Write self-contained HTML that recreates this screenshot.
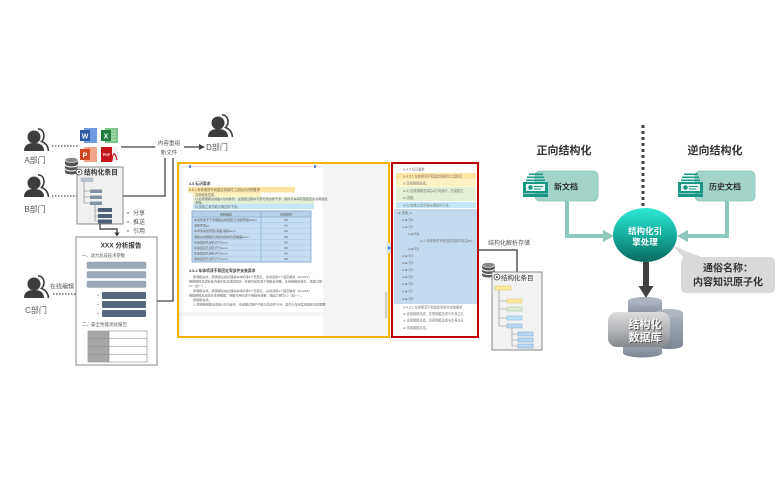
<!DOCTYPE html>
<html><head><meta charset="utf-8">
<style>
html,body{margin:0;padding:0;background:#fff;}
svg{display:block}
text{font-family:"Liberation Sans","Noto Sans CJK SC",sans-serif;}
</style></head>
<body>
<svg width="783" height="483" viewBox="0 0 783 483" xmlns="http://www.w3.org/2000/svg">
<defs>
  <g id="person">
    <circle cx="0" cy="0" r="6.5" fill="#3d3d3d"/>
    <path d="M-10,14 C-10,8 -6,6 0,6 C6,6 10,8 10,14 Z" fill="#3d3d3d"/>
    <path d="M4,-8 C10,-8.5 12,0 7.5,4.5 C12,6 14,9 14.5,14" stroke="#3d3d3d" stroke-width="1.6" fill="none"/>
  </g>
  <linearGradient id="gCircle" x1="0" y1="0" x2="0" y2="1">
    <stop offset="0" stop-color="#2fe8d8"/>
    <stop offset="0.55" stop-color="#13a896"/>
    <stop offset="1" stop-color="#0a6a5e"/>
  </linearGradient>
  <linearGradient id="gDb" x1="0" y1="0" x2="0" y2="1">
    <stop offset="0" stop-color="#dcdcdc"/>
    <stop offset="0.5" stop-color="#b4b6b9"/>
    <stop offset="1" stop-color="#85888c"/>
  </linearGradient>
  <linearGradient id="gDb2" x1="0" y1="0" x2="0" y2="1">
    <stop offset="0" stop-color="#a9b2bd"/>
    <stop offset="1" stop-color="#7c8693"/>
  </linearGradient>
</defs>

<!-- ===== LEFT: persons ===== -->
<use href="#person" x="34" y="137"/>
<text x="35" y="163" font-size="8" fill="#555" text-anchor="middle">A部门</text>
<line x1="52" y1="146" x2="78" y2="146" stroke="#555" stroke-width="1.2" stroke-dasharray="1.5,1.5"/>

<use href="#person" x="34" y="183"/>
<text x="35" y="212" font-size="8" fill="#555" text-anchor="middle">B部门</text>
<line x1="52" y1="196" x2="77" y2="196" stroke="#555" stroke-width="1.2" stroke-dasharray="1.5,1.5"/>

<use href="#person" x="34" y="284"/>
<text x="36" y="313" font-size="8" fill="#555" text-anchor="middle">C部门</text>
<text x="50" y="288.5" font-size="6" fill="#555">在线编辑</text>
<line x1="53" y1="294" x2="76" y2="294" stroke="#555" stroke-width="1.2" stroke-dasharray="1.5,1.5"/>

<use href="#person" x="218" y="123"/>
<text x="217" y="150" font-size="8" fill="#555" text-anchor="middle">D部门</text>

<!-- office icons -->
<g>
  <rect x="84" y="128" width="13" height="15" fill="#6f9be0"/>
  <rect x="80" y="130" width="10" height="11" fill="#2b5aa8"/>
  <text x="85" y="138.5" font-size="7" font-weight="bold" fill="#fff" text-anchor="middle">W</text>
  <rect x="105" y="128" width="13" height="15" fill="#7cc68a"/>
  <rect x="101" y="130" width="10" height="11" fill="#1f7a3e"/>
  <text x="106" y="138.5" font-size="7" font-weight="bold" fill="#fff" text-anchor="middle">X</text>
  <path d="M111,131h5M111,134h5M111,137h5M111,140h5" stroke="#fff" stroke-width="0.6"/>
  <rect x="84" y="147" width="13" height="15" fill="#f0a48a"/>
  <rect x="80" y="149" width="10" height="11" fill="#cf4a24"/>
  <text x="85" y="157.5" font-size="7" font-weight="bold" fill="#fff" text-anchor="middle">P</text>
  <rect x="101" y="147" width="15" height="15" fill="#c4161c"/>
  <rect x="112" y="147" width="6" height="15" fill="#f4f4f4"/>
  <text x="106.5" y="156" font-size="3.6" font-weight="bold" fill="#fff" text-anchor="middle">PDF</text>
  <path d="M112,161 C113,152 115,151 117,160" stroke="#c4161c" stroke-width="1.2" fill="none"/>
</g>

<!-- content restructure -->
<line x1="121" y1="147" x2="155" y2="147" stroke="#444" stroke-width="1.3"/>
<text x="169" y="145" font-size="5.6" fill="#555" text-anchor="middle">内容重组</text>
<text x="169" y="154.5" font-size="5.6" fill="#555" text-anchor="middle">新文件</text>
<line x1="184" y1="147" x2="200" y2="147" stroke="#444" stroke-width="1.3"/>
<polygon points="199,144 205,147 199,150" fill="#444"/>
<polyline points="165,158 165,196 123,196" fill="none" stroke="#444" stroke-width="1.3"/>
<polyline points="173,158 173,301 157,301" fill="none" stroke="#444" stroke-width="1.3"/>

<!-- left db icon -->
<path d="M65,160 v12 a6.5,2.5 0 0 0 13,0 v-12 z" fill="#555"/>
<path d="M65,164.5 a6.5,2.5 0 0 0 13,0 M65,168.5 a6.5,2.5 0 0 0 13,0" stroke="#fff" stroke-width="1" fill="none"/>
<ellipse cx="71.5" cy="160" rx="6.5" ry="2.5" fill="#888" stroke="#fff" stroke-width="0.6"/>

<!-- left structured box -->
<rect x="77" y="167" width="46" height="57" fill="#f0f0f0" stroke="#8a8a8a" stroke-width="1"/>
<circle cx="79" cy="172" r="3" fill="#fff" stroke="#444" stroke-width="0.8"/>
<circle cx="79" cy="172" r="1" fill="#444"/>
<text x="84" y="174.5" font-size="6.8" font-weight="bold" fill="#333">结构化条目</text>
<g stroke="#777" stroke-width="0.6" fill="none">
  <path d="M84,182 V203 M84,191 H90 M84,197 H90 M84,203 H90"/>
  <path d="M95,205 V221 M95,210 H98 M95,216 H98 M95,221 H98"/>
</g>
<rect x="81" y="178" width="12" height="3.5" fill="#b7c3cf" stroke="#8d9bab" stroke-width="0.4"/>
<rect x="90" y="189.5" width="12" height="3.5" fill="#8393a6"/>
<rect x="90" y="195.5" width="12" height="3.5" fill="#8393a6"/>
<rect x="90" y="201.5" width="12" height="3.5" fill="#8393a6"/>
<rect x="98" y="208" width="14" height="4" fill="#4f5f76"/>
<rect x="98" y="214" width="14" height="4" fill="#4f5f76"/>
<rect x="98" y="219.5" width="14" height="4" fill="#4f5f76"/>
<g fill="#555">
  <circle cx="128" cy="213" r="0.8"/>
  <circle cx="128" cy="222" r="0.8"/>
  <circle cx="128" cy="231" r="0.8"/>
</g>
<text x="133" y="215" font-size="6" fill="#555">分享</text>
<text x="133" y="224" font-size="6" fill="#555">推送</text>
<text x="133" y="233" font-size="6" fill="#555">引用</text>
<polyline points="100,224 100,229 117,229 117,233" fill="none" stroke="#333" stroke-width="1.2"/>
<polygon points="114.5,232.5 119.5,232.5 117,236.5" fill="#333"/>

<!-- report -->
<rect x="76" y="237" width="81" height="128" fill="#fff" stroke="#888" stroke-width="1"/>
<text x="121" y="247.5" font-size="6.5" font-weight="bold" fill="#333" text-anchor="middle">XXX 分析报告</text>
<text x="82" y="257" font-size="4.3" fill="#555">一、动力总成技术参数</text>
<g fill="#9aa8b8" stroke="#8493a5" stroke-width="0.4">
  <rect x="87" y="262" width="59" height="6.5" rx="1"/>
  <rect x="87" y="271.5" width="59" height="6.5" rx="1"/>
  <rect x="87" y="281" width="59" height="6.5" rx="1"/>
</g>
<g fill="#56677e">
  <rect x="102" y="292" width="44" height="7" rx="1"/>
  <rect x="102" y="301" width="44" height="7" rx="1"/>
  <rect x="102" y="310" width="44" height="7" rx="1"/>
</g>
<g fill="#777"><circle cx="98" cy="295.5" r="0.6"/><circle cx="98" cy="304.5" r="0.6"/><circle cx="98" cy="313.5" r="0.6"/></g>
<text x="82" y="326" font-size="4.5" fill="#555">二、安全性能测试报告</text>
<rect x="88" y="331" width="59" height="31" fill="#fff" stroke="#888" stroke-width="0.6"/>
<rect x="88" y="331" width="21" height="31" fill="#a6a6a6"/>
<g stroke="#888" stroke-width="0.6">
  <line x1="88" y1="338.75" x2="147" y2="338.75"/>
  <line x1="88" y1="346.5" x2="147" y2="346.5"/>
  <line x1="88" y1="354.25" x2="147" y2="354.25"/>
  <line x1="109" y1="331" x2="109" y2="362"/>
</g>

<!-- ===== DOCUMENT PANEL (yellow) ===== -->
<rect x="178" y="163" width="211" height="174" fill="#f4f4f4" stroke="#f5b400" stroke-width="2"/>
<rect x="179" y="164" width="144" height="148" fill="#fff"/>
<rect x="179" y="316" width="144" height="20" fill="#fff"/>
<line x1="180" y1="164" x2="180" y2="336" stroke="#c8d4e0" stroke-width="0.8"/>
<g stroke="#bbb" stroke-width="0.5">
  <line x1="182" y1="166.5" x2="322" y2="166.5"/>
</g>
<rect x="189" y="165" width="2" height="3" fill="#5a8fd0"/>
<rect x="314" y="165" width="2" height="3" fill="#5a8fd0"/>
<rect x="385" y="292" width="2" height="26" fill="#ccc"/>
<rect x="387" y="243" width="5" height="10" rx="1.5" fill="#d3e4f4"/>
<polygon points="388,246 391,248 388,250" fill="#3b78c0"/>

<text x="189" y="185" font-size="3.8" font-weight="bold" fill="#444">4.5 标识要求</text>
<rect x="188" y="187" width="107" height="5.5" fill="#fce3a0"/>
<text x="189" y="191" font-size="3.3" fill="#666">4.5.1  车体喷漆不和固定零部件工具标识识别要求</text>
<rect x="193" y="192.5" width="68" height="4.5" fill="#fdf2c6"/>
<text x="195" y="196" font-size="3.2" fill="#666">否则继续总成。</text>
<rect x="193" y="197" width="121" height="7" fill="#e2efd6"/>
<text x="195" y="200" font-size="3.1" fill="#666">1) 如按钢模总成由A方向操作，在装配过程中不能与周边件干涉，案件与车间实现固定总成需要装</text>
<text x="195" y="203.5" font-size="3.1" fill="#666">流程。</text>
<rect x="193" y="204" width="121" height="5" fill="#c4e6f6"/>
<text x="195" y="207.8" font-size="3.2" fill="#666">2) 安装工具不能与周边件干涉。</text>

<rect x="192" y="211" width="119" height="51" fill="#c6dcf0" stroke="#7fa6cc" stroke-width="0.8"/>
<rect x="192" y="211" width="119" height="6" fill="#b7d1ea" stroke="#7fa6cc" stroke-width="0.6"/>
<line x1="261" y1="211" x2="261" y2="262" stroke="#7fa6cc" stroke-width="0.6"/>
<g stroke="#9dbcdc" stroke-width="0.4">
  <line x1="192" y1="222.6" x2="311" y2="222.6"/>
  <line x1="192" y1="228.2" x2="311" y2="228.2"/>
  <line x1="192" y1="233.8" x2="311" y2="233.8"/>
  <line x1="192" y1="239.4" x2="311" y2="239.4"/>
  <line x1="192" y1="245" x2="311" y2="245"/>
  <line x1="192" y1="250.6" x2="311" y2="250.6"/>
  <line x1="192" y1="256.2" x2="311" y2="256.2"/>
</g>
<g font-size="3" fill="#555">
  <text x="226" y="215.5" text-anchor="middle">控制描述</text>
  <text x="286" y="215.5" text-anchor="middle">合格控制</text>
  <text x="194" y="221">车身喷漆不干涉钢模总成安装口(漆膜厚度≤35μ)</text>
  <text x="194" y="226.6">漆膜厚度≤μ</text>
  <text x="194" y="232.2">中间漆涂层厚度(漆面)漆膜≤mm</text>
  <text x="194" y="237.8">钢模总成钢模孔焊接内径向位置偏差≤mm</text>
  <text x="194" y="243.4">喷涂固定孔径孔尺寸≤mm</text>
  <text x="194" y="249">喷涂固定孔径孔尺寸≤mm</text>
  <text x="194" y="254.6">喷涂固定孔径孔尺寸≤mm</text>
  <text x="194" y="260.2">钢模固定孔径孔尺寸≤mm</text>
  <text x="286" y="221" text-anchor="middle">OK</text>
  <text x="286" y="226.6" text-anchor="middle">OK</text>
  <text x="286" y="232.2" text-anchor="middle">OK</text>
  <text x="286" y="237.8" text-anchor="middle">OK</text>
  <text x="286" y="243.4" text-anchor="middle">OK</text>
  <text x="286" y="249" text-anchor="middle">OK</text>
  <text x="286" y="254.6" text-anchor="middle">OK</text>
  <text x="286" y="260.2" text-anchor="middle">OK</text>
</g>
<text x="189" y="272" font-size="3.8" font-weight="bold" fill="#444">4.5.2  车体喷漆不和固定零部件安装要求</text>
<g font-size="3.1" fill="#666">
  <text x="193" y="278">  按钢模总成，按钢模总成处理和车体喷漆4个安装孔，总成选用4个固定螺栓（M10X1）</text>
  <text x="189" y="282.5">钢模钢模总成安装内由车体总成后固定，在钢内和喷漆于钢结合调整，车用钢模安装孔，通固力钢</text>
  <text x="189" y="287">10（如一）。</text>
  <text x="193" y="292">  按钢模总成，按钢模总成处理和车体喷漆3个安装孔，总成选用3个固定螺栓（M10X8）</text>
  <text x="189" y="296.5">钢模钢模总成由车体钢钢固，钢模作用喷漆于钢结合调整，通固力钢为10（如一）。</text>
  <text x="193" y="301">  按钢模总成。</text>
  <text x="193" y="305.5">  1) 按钢模钢模总成由A方向操作，在装配过程中不能与周边件干涉，案件与车间实现固定总成需要</text>
</g>

<!-- ===== STRUCTURE PANEL (red) ===== -->
<rect x="392" y="163" width="86" height="174" fill="#fff" stroke="#c00000" stroke-width="2"/>
<rect x="396" y="173" width="80" height="6.5" fill="#fde5a2"/>
<rect x="396" y="180" width="80" height="6.5" fill="#fff2c2"/>
<rect x="396" y="187" width="80" height="14" fill="#e3f0d5"/>
<rect x="396" y="202" width="80" height="6" fill="#c4e6f6"/>
<rect x="394" y="209" width="83" height="95" fill="#c2d9ee"/>
<g font-size="3.2" fill="#777">
  <text x="403" y="170.5">⊞ 4.5 标识要求</text>
  <text x="403" y="177.5">⊞ 4.5.1 车体喷漆不和固定零部件工具标识</text>
  <text x="403" y="184.5">⊞ 否则继续总成。</text>
  <text x="403" y="192">⊞ 1) 如按钢模总成由A方向操作，在装配过</text>
  <text x="403" y="199">⊞ 流程。</text>
  <text x="403" y="206.5">⊞ 2) 安装工具不能与周边件干涉。</text>
  <text x="396" y="214">□ ■ 表格_a</text>
  <text x="402" y="221">⊞ ■ 行a</text>
  <text x="402" y="228">⊟ ■ 行1</text>
  <text x="408" y="235">⊟ ■ 列a</text>
  <text x="420" y="242">⊞ 1.车体喷漆不和固定零部件标注tex...</text>
  <text x="408" y="250">⊞ ■ 列1</text>
  <text x="402" y="257">⊞ ■ 行2</text>
  <text x="402" y="264">⊞ ■ 行3</text>
  <text x="402" y="271">⊞ ■ 行4</text>
  <text x="402" y="278">⊞ ■ 行5</text>
  <text x="402" y="285">⊞ ■ 行6</text>
  <text x="402" y="292.5">⊞ ■ 行7</text>
  <text x="402" y="300">⊞ ■ 行8</text>
  <text x="403" y="308.5">⊞ 4.5.2 车体喷漆不和固定零部件安装要求</text>
  <text x="403" y="315">⊞ 设置钢模总成，在预钢模总成与车身主孔</text>
  <text x="403" y="321.5">⊞ 设置钢模总成，后预钢模总成与车身主孔</text>
  <text x="403" y="329">⊞ 设置钢模总成。</text>
</g>

<!-- parse & store -->
<text x="488" y="245" font-size="6" fill="#555">结构化解析存储</text>
<polyline points="478,250 517,250 517,272" fill="none" stroke="#555" stroke-width="1.5"/>

<!-- right db icon -->
<path d="M482,265 v10 a6.5,2.5 0 0 0 13,0 v-10 z" fill="#555"/>
<path d="M482,268.5 a6.5,2.5 0 0 0 13,0 M482,272 a6.5,2.5 0 0 0 13,0" stroke="#fff" stroke-width="1" fill="none"/>
<ellipse cx="488.5" cy="265" rx="6.5" ry="2.5" fill="#888" stroke="#fff" stroke-width="0.6"/>

<!-- right structured box -->
<rect x="492" y="272" width="50" height="78" fill="#f2f2f2" stroke="#8a8a8a" stroke-width="1"/>
<circle cx="497" cy="277" r="3" fill="#fff" stroke="#444" stroke-width="0.8"/>
<circle cx="497" cy="277" r="1" fill="#444"/>
<text x="501" y="280" font-size="6.5" fill="#333">结构化条目</text>
<g stroke="#888" stroke-width="0.6" fill="none">
  <path d="M499,290 V326 M499,301 H507 M499,309 H507 M499,318 H507 M499,326 H507"/>
  <path d="M512,328 V346 M512,334 H518 M512,340 H518 M512,346 H518"/>
</g>
<rect x="495" y="286" width="16" height="4" fill="#fde9a0" stroke="#d8c068" stroke-width="0.5"/>
<rect x="507" y="299" width="15" height="4" fill="#fde9a0" stroke="#d8c068" stroke-width="0.5"/>
<rect x="507" y="307" width="15" height="4" fill="#dcebd2" stroke="#a4c49a" stroke-width="0.5"/>
<rect x="507" y="316" width="15" height="4" fill="#bfe2f6" stroke="#80b4da" stroke-width="0.5"/>
<rect x="507" y="324" width="15" height="4" fill="#bcd8f0" stroke="#7aa6d0" stroke-width="0.5"/>
<rect x="518" y="332" width="15" height="4" fill="#bcd8f0" stroke="#6f9fd0" stroke-width="0.5"/>
<rect x="518" y="338" width="15" height="4" fill="#bcd8f0" stroke="#6f9fd0" stroke-width="0.5"/>
<rect x="518" y="344" width="15" height="4" fill="#bcd8f0" stroke="#6f9fd0" stroke-width="0.5"/>

<!-- ===== RIGHT: engine ===== -->
<line x1="643" y1="125" x2="643" y2="208" stroke="#444" stroke-width="3" stroke-dasharray="3,3"/>
<text x="564" y="154" font-size="11" font-weight="bold" fill="#333" text-anchor="middle">正向结构化</text>
<text x="715" y="154" font-size="11" font-weight="bold" fill="#333" text-anchor="middle">逆向结构化</text>

<!-- new doc -->
<rect x="535" y="171" width="63" height="30" rx="5" fill="#a3d4c9" stroke="#88c2b5" stroke-width="0.8"/>
<g fill="#1a9886">
  <rect x="529" y="173.5" width="14" height="1.6"/>
  <rect x="527" y="176.5" width="17" height="1.6"/>
  <rect x="526" y="179.5" width="19" height="1.6"/>
  <rect x="523" y="182" width="25" height="11"/>
  <rect x="523" y="193.5" width="25" height="3.5"/>
</g>
<rect x="526" y="184" width="19" height="7" fill="#e8f6f3"/>
<circle cx="530.5" cy="187.5" r="2.3" fill="#1a9886"/>
<rect x="534" y="186" width="9" height="1" fill="#1a9886"/>
<rect x="534" y="188.5" width="7" height="1" fill="#1a9886"/>
<text x="566" y="189.5" font-size="8" font-weight="bold" fill="#333" text-anchor="middle">新文档</text>

<!-- history doc -->
<rect x="695" y="171" width="60" height="30" rx="5" fill="#a3d4c9" stroke="#88c2b5" stroke-width="0.8"/>
<g fill="#1a9886">
  <rect x="684" y="173.5" width="14" height="1.6"/>
  <rect x="682" y="176.5" width="17" height="1.6"/>
  <rect x="681" y="179.5" width="19" height="1.6"/>
  <rect x="678" y="182" width="25" height="11"/>
  <rect x="678" y="193.5" width="25" height="3.5"/>
</g>
<rect x="681" y="184" width="19" height="7" fill="#e8f6f3"/>
<circle cx="685.5" cy="187.5" r="2.3" fill="#1a9886"/>
<rect x="689" y="186" width="9" height="1" fill="#1a9886"/>
<rect x="689" y="188.5" width="7" height="1" fill="#1a9886"/>
<text x="725" y="189.5" font-size="8" font-weight="bold" fill="#333" text-anchor="middle">历史文档</text>

<!-- teal arrows -->
<polyline points="567,201 567,236 604,236" fill="none" stroke="#8ec8bc" stroke-width="4"/>
<polygon points="603,230 614,236 603,242" fill="#8ec8bc"/>
<polyline points="727,201 727,236 687,236" fill="none" stroke="#8ec8bc" stroke-width="4"/>
<polygon points="688,230 677,236 688,242" fill="#8ec8bc"/>

<!-- callout -->
<polygon points="673,246 684,258 704,258" fill="#d9d9d9"/>
<rect x="681" y="257" width="94" height="36" rx="5" fill="#d9d9d9"/>
<text x="728" y="271.5" font-size="10" font-weight="bold" fill="#333" text-anchor="middle">通俗名称：</text>
<text x="728" y="285.5" font-size="10" font-weight="bold" fill="#333" text-anchor="middle">内容知识原子化</text>

<!-- engine circle -->
<ellipse cx="645" cy="235" rx="32" ry="27" fill="url(#gCircle)"/>
<text x="645" y="234" font-size="8.5" font-weight="bold" fill="#fff" text-anchor="middle">结构化引</text>
<text x="645" y="245" font-size="8.5" font-weight="bold" fill="#fff" text-anchor="middle">擎处理</text>

<!-- dark arrow -->
<rect x="643" y="262" width="6" height="25" fill="#404040"/>
<polygon points="638.5,286 653.5,286 646,298" fill="#404040"/>

<!-- database -->
<path d="M628,301 v14 a17,4 0 0 0 34,0 v-14 z" fill="url(#gDb2)"/>
<ellipse cx="645" cy="301" rx="17" ry="4" fill="#aab3be"/>
<path d="M655,313 v32 a14,4 0 0 0 28,0 v-32 z" fill="url(#gDb2)"/>
<ellipse cx="669" cy="313" rx="14" ry="4" fill="#aeb6c0"/>
<path d="M623,340 v13 a19.5,4.5 0 0 0 39,0 v-13 z" fill="url(#gDb2)"/>
<rect x="608" y="312" width="62" height="35" rx="9" fill="url(#gDb)"/>
<text x="646" y="329" font-size="11" font-weight="bold" fill="#555" text-anchor="middle">结构化</text>
<text x="645" y="328" font-size="11" font-weight="bold" fill="#fff" text-anchor="middle">结构化</text>
<text x="646" y="342" font-size="11" font-weight="bold" fill="#555" text-anchor="middle">数据库</text>
<text x="645" y="341" font-size="11" font-weight="bold" fill="#fff" text-anchor="middle">数据库</text>
</svg>
</body></html>
